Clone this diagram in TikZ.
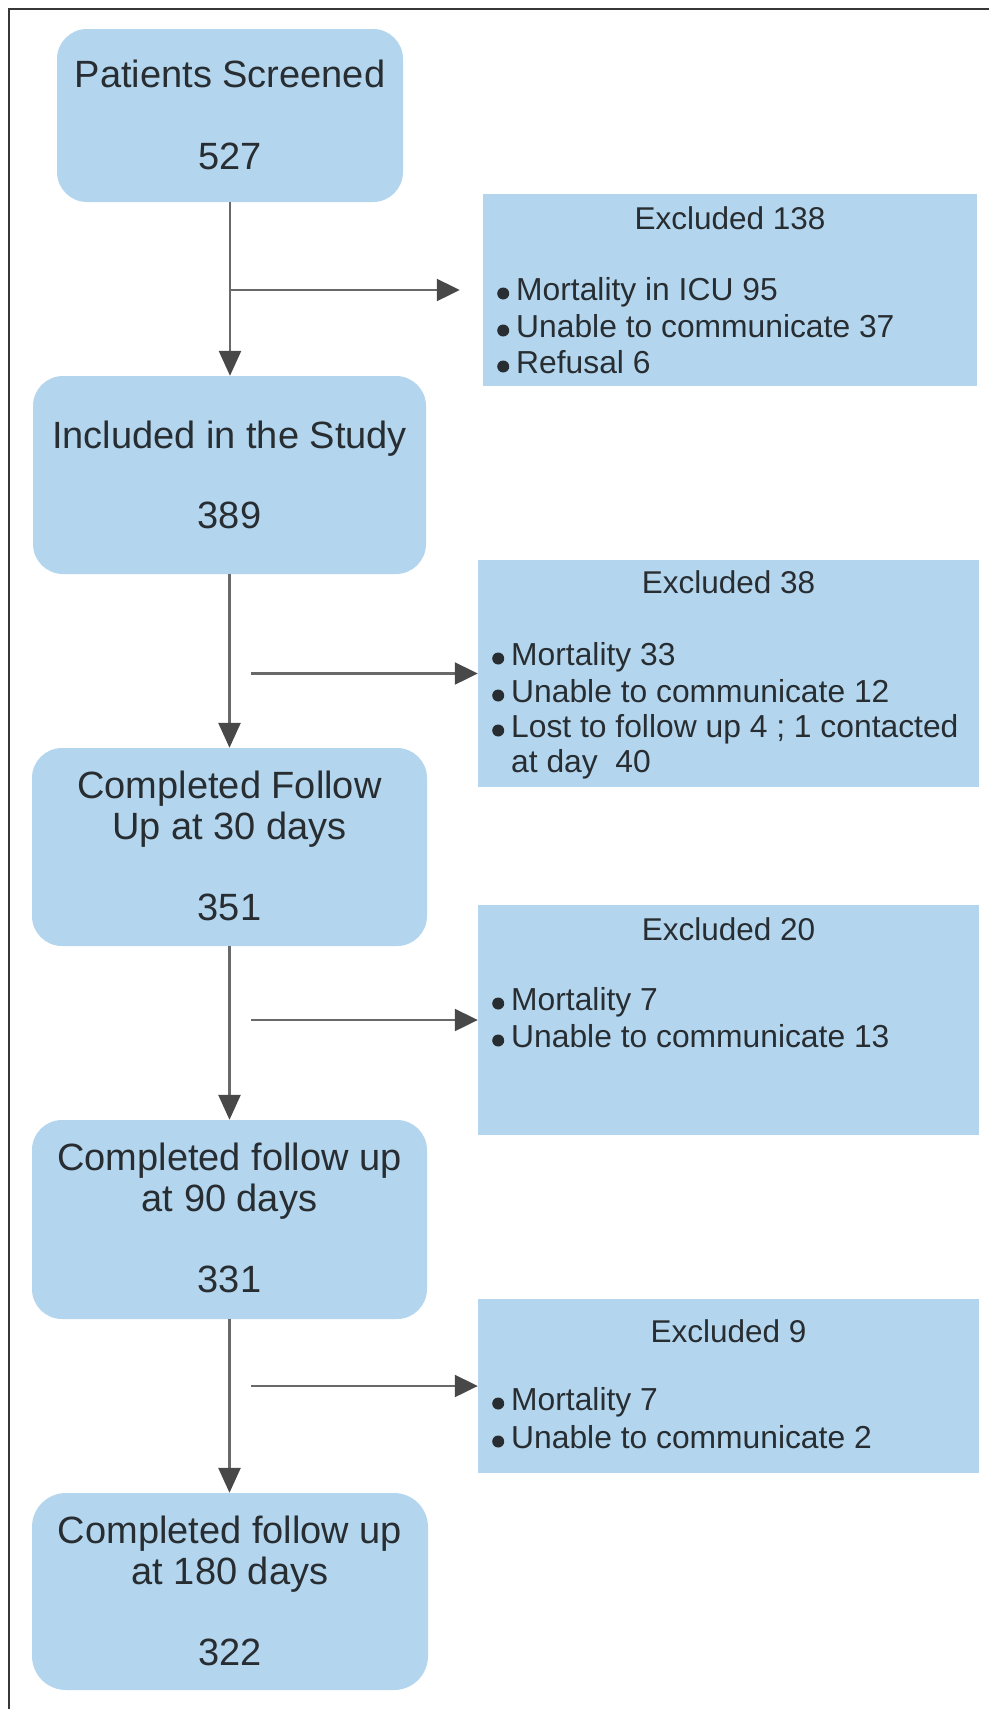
\documentclass[tikz,border=0pt]{standalone}
\usepackage{fontspec}
\setmainfont{Liberation Sans}
\usetikzlibrary{arrows.meta}
\definecolor{boxc}{RGB}{179,214,238}
\definecolor{txtc}{RGB}{40,45,50}
\definecolor{linec}{RGB}{105,105,105}
\definecolor{headc}{RGB}{72,72,72}
\definecolor{framec}{RGB}{55,55,55}
\newcommand{\bul}{\tikz[x=1pt,y=1pt,baseline=0pt]\fill[txtc] (6pt,6.5pt) circle[radius=6pt];\hspace{7pt}}
\begin{document}
\begin{tikzpicture}[x=1pt,y=-1pt,
  flowbox/.style={fill=boxc, draw=none, rounded corners=30pt, inner sep=0pt},
  exbox/.style={fill=boxc, draw=none, inner sep=0pt},
  big/.style={inner sep=0pt, text=txtc, anchor=base, font=\fontsize{38}{40}\selectfont},
  head/.style={inner sep=0pt, text=txtc, anchor=base, font=\fontsize{31.5}{36}\selectfont},
  item/.style={inner sep=0pt, text=txtc, anchor=base west, font=\fontsize{31.8}{36}\selectfont},
  varr/.style={draw=linec, line width=2.6pt, -{Triangle[width=22pt,length=25pt,color=headc,fill=headc]}},
  harr/.style={draw=linec, line width=2.2pt, -{Triangle[width=22pt,length=23pt,color=headc,fill=headc]}},
  framel/.style={draw=framec, line width=2.2pt}
]
\useasboundingbox (0,0) rectangle (989,1709);
\fill[white] (0,0) rectangle (989,1709);
\draw[framel] (9,1709) -- (9,9) -- (989,9);

% main boxes
\node[flowbox, minimum width=346pt, minimum height=173pt] (b1) at (230,115.5) {};
\node[flowbox, minimum width=393pt, minimum height=198pt] (b2) at (229.5,475) {};
\node[flowbox, minimum width=395pt, minimum height=198pt] (b3) at (229.5,847) {};
\node[flowbox, minimum width=395pt, minimum height=199pt] (b4) at (229.5,1219.5) {};
\node[flowbox, minimum width=396pt, minimum height=197pt, rounded corners=34pt] (b5) at (230,1591.5) {};

\node[big] (b1t) at (230,87) {Patients Screened};
\node[big] (b1n) at (230,169) {527};
\node[big] (b2t) at (229.5,448) {Included in the Study};
\node[big] (b2n) at (229.5,528) {389};
\node[big] (b3t) at (229.5,798) {Completed Follow};
\node[big] (b3u) at (229.5,839) {Up at 30 days};
\node[big] (b3n) at (229.5,920) {351};
\node[big] (b4t) at (229.5,1170) {Completed follow up};
\node[big] (b4u) at (229.5,1211) {at 90 days};
\node[big] (b4n) at (229.5,1292) {331};
\node[big] (b5t) at (230,1543) {Completed follow up};
\node[big] (b5u) at (230,1584) {at 180 days};
\node[big] (b5n) at (230,1665) {322};

% exclusion boxes
\node[exbox, minimum width=494pt, minimum height=192pt] (e1) at (730,290) {};
\node[exbox, minimum width=501pt, minimum height=227pt] (e2) at (728.5,673.5) {};
\node[exbox, minimum width=501pt, minimum height=230pt] (e3) at (728.5,1020) {};
\node[exbox, minimum width=501pt, minimum height=174pt] (e4) at (728.5,1386) {};

\node[head] (e1h) at (730,229) {Excluded 138};
\node[item] (e1a) at (497,300) {\bul Mortality in ICU 95};
\node[item] (e1b) at (497,337) {\bul Unable to communicate 37};
\node[item] (e1c) at (497,373) {\bul Refusal 6};

\node[head] (e2h) at (728.5,593) {Excluded 38};
\node[item] (e2a) at (492,665) {\bul Mortality 33};
\node[item] (e2b) at (492,702) {\bul Unable to communicate 12};
\node[item] (e2c) at (492,737) {\bul Lost to follow up 4 ; 1 contacted};
\node[item] (e2d) at (511,772) {at day\ \ 40};

\node[head] (e3h) at (728.5,940) {Excluded 20};
\node[item] (e3a) at (492,1010) {\bul Mortality 7};
\node[item] (e3b) at (492,1047) {\bul Unable to communicate 13};

\node[head] (e4h) at (728.5,1342) {Excluded 9};
\node[item] (e4a) at (492,1410) {\bul Mortality 7};
\node[item] (e4b) at (492,1448) {\bul Unable to communicate 2};

% vertical connectors
\draw[varr] (b1.south) -- (b1.south |- b2.north);
\draw[varr] (b2.south) -- (b2.south |- b3.north);
\draw[varr] (b3.south) -- (b3.south |- b4.north);
\draw[varr] (b4.south) -- (b4.south |- b5.north);

% side connectors
\coordinate (s1) at (230,290);
\coordinate (s2) at (251,673.5);
\coordinate (s3) at (251,1020);
\coordinate (s4) at (251,1386);
\draw[harr, shorten >=23pt] (s1) -- (e1.west);
\draw[harr] (s2) -- (e2.west);
\draw[harr] (s3) -- (e3.west);
\draw[harr] (s4) -- (e4.west);
\end{tikzpicture}
\end{document}
